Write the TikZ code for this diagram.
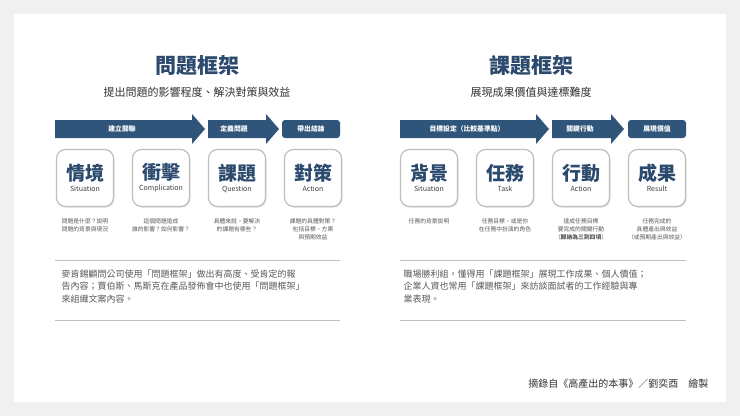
\documentclass[tikz,border=0pt]{standalone}
\usepackage{fontspec}
\setmainfont{Noto Sans CJK TC}
\usetikzlibrary{shadows}
\definecolor{navy}{HTML}{2B4A6E}
\definecolor{bar}{HTML}{2F557A}
\definecolor{txt}{HTML}{595959}
\tikzset{
 x=1pt,y=-1pt,
 card/.style={draw=black!25,line width=1.2pt,rounded corners=9pt,fill=white,minimum width=57pt,minimum height=57pt,drop shadow={opacity=0.25,shadow xshift=1pt,shadow yshift=-1pt}},
 desc/.style={font=\fontsize{5.8}{8}\selectfont,text=txt,align=center},
 bartxt/.style={font=\bfseries\fontsize{6.8}{8}\selectfont,text=white},
 para/.style={font=\fontsize{9}{12.5}\selectfont,text=txt,align=left,anchor=north west},
 sep/.style={draw=black!25,line width=0.6pt}
}
\newcommand{\cardtext}[2]{{\fontsize{19}{20}\selectfont\bfseries\color{navy}#1}\\[-1pt]{\fontsize{7}{8}\selectfont\color{black!75}#2}}
\begin{document}
\begin{tikzpicture}
\fill[black!6] (0,0) rectangle (740,416);
\fill[white] (14,14) rectangle (726,402);
\useasboundingbox (0,0) rectangle (740,416);
% ===== left =====
\node[font=\bfseries\fontsize{21}{23}\selectfont,text=navy] (t1) at (197,66) {問題框架};
\node[font=\fontsize{11}{13}\selectfont,text=black!80] (s1) at (197,92) {提出問題的影響程度、解決對策與效益};
\fill[bar] (55,120) -- (192,120) -- (192,114) -- (205,129) -- (192,144) -- (192,138) -- (55,138) -- cycle;
\node[bartxt] (a1) at (122,129) {建立關聯};
\fill[bar] (208,120) -- (266,120) -- (266,114) -- (279,129) -- (266,144) -- (266,138) -- (208,138) -- cycle;
\node[bartxt] (a2) at (234,129) {定義問題};
\fill[bar,rounded corners=3pt] (282,120) rectangle (340,138);
\node[bartxt] (a3) at (311,129) {帶出結論};
\node[card,align=center] (c1) at (85,178) {\cardtext{情境}{Situation}};
\node[card,align=center] (c2) at (161,178) {\cardtext{衝擊}{Complication}};
\node[card,align=center] (c3) at (237,178) {\cardtext{課題}{Question}};
\node[card,align=center] (c4) at (313,178) {\cardtext{對策}{Action}};
\node[desc,anchor=north] (d1) at (85,215) {問題是什麼？說明\\問題的背景與現況};
\node[desc,anchor=north] (d2) at (161,215) {這個問題造成\\誰的影響？如何影響？};
\node[desc,anchor=north] (d3) at (237,215) {具體來說，要解決\\的課題有哪些？};
\node[desc,anchor=north] (d4) at (313,215) {課題的具體對策？\\包括目標、方案\\與預期效益};
\draw[sep] (55,260) -- (340,260);
\node[para] (p1) at (58,266) {麥肯錫顧問公司使用「問題框架」做出有高度、受肯定的報\\告內容；賈伯斯、馬斯克在產品發佈會中也使用「問題框架」\\來組織文案內容。};
\draw[sep] (55,320) -- (340,320);
% ===== right =====
\node[font=\bfseries\fontsize{21}{23}\selectfont,text=navy] (t2) at (531,66) {課題框架};
\node[font=\fontsize{11}{13}\selectfont,text=black!80] (s2) at (531,92) {展現成果價值與達標難度};
\fill[bar] (400,120) -- (536,120) -- (536,114) -- (549,129) -- (536,144) -- (536,138) -- (400,138) -- cycle;
\node[bartxt] (b1) at (467,129) {目標設定（比較基準點）};
\fill[bar] (552,120) -- (611,120) -- (611,114) -- (624,129) -- (611,144) -- (611,138) -- (552,138) -- cycle;
\node[bartxt] (b2) at (580,129) {關鍵行動};
\fill[bar,rounded corners=3pt] (628,120) rectangle (686,138);
\node[bartxt] (b3) at (657,129) {展現價值};
\node[card,align=center] (e1) at (429,178) {\cardtext{背景}{Situation}};
\node[card,align=center] (e2) at (505,178) {\cardtext{任務}{Task}};
\node[card,align=center] (e3) at (581,178) {\cardtext{行動}{Action}};
\node[card,align=center] (e4) at (657,178) {\cardtext{成果}{Result}};
\node[desc,anchor=north] (f1) at (429,215) {任務的背景說明};
\node[desc,anchor=north] (f2) at (505,215) {任務目標，或是你\\在任務中扮演的角色};
\node[desc,anchor=north] (f3) at (581,215) {達成任務目標\\要完成的關鍵行動\\（\textbf{歸納為三到四項}）};
\node[desc,anchor=north] (f4) at (657,215) {任務完成的\\具體產出與效益\\（或預期產出與效益）};
\draw[sep] (400,260) -- (686,260);
\node[para] (p2) at (400,266) {職場勝利組，懂得用「課題框架」展現工作成果、個人價值；\\企業人資也常用「課題框架」來訪談面試者的工作經驗與專\\業表現。};
\draw[sep] (400,320) -- (686,320);
\node[font=\fontsize{10}{12}\selectfont,text=black!80,anchor=east] (ft) at (712,384) {摘錄自《高產出的本事》／劉奕酉　繪製};
\end{tikzpicture}
\end{document}
